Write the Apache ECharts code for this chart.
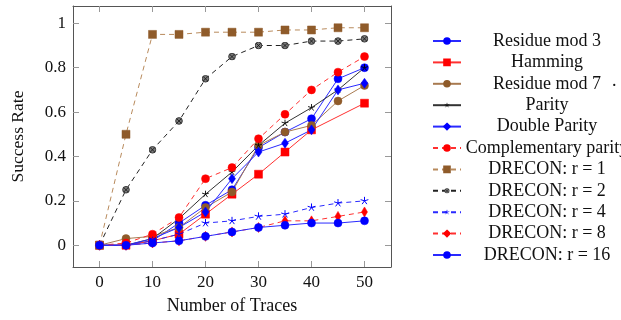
<!DOCTYPE html>
<html><head><meta charset="utf-8">
<script src="https://cdn.jsdelivr.net/npm/echarts@6/dist/echarts.min.js"></script>
<style>html,body{margin:0;padding:0;background:#fff}#c{width:621px;height:320px}</style>
</head><body><div id="c"></div>
<script>
// ---- data ----
const traces = [0, 5, 10, 15, 20, 25, 30, 35, 40, 45, 50];
const xTicks = [0, 10, 20, 30, 40, 50];
const yTicks = [0, 0.2, 0.4, 0.6, 0.8, 1];
const residueMod3   = [0, 0, 0.02, 0.10, 0.18, 0.25, 0.44, 0.51, 0.57, 0.75, 0.80];
const hamming       = [0, 0, 0.02, 0.05, 0.14, 0.23, 0.32, 0.42, 0.52, null, 0.64];
const residueMod7   = [0, 0.03, 0.04, 0.08, 0.17, 0.24, 0.45, 0.51, 0.54, 0.65, 0.72];
const parity        = [0, 0, 0.03, 0.12, 0.23, 0.33, 0.45, 0.55, 0.62, 0.70, 0.80];
const doubleParity  = [0, 0, 0.03, 0.08, 0.15, 0.30, 0.42, 0.46, 0.52, 0.70, 0.73];
const compParity    = [0, 0.01, 0.05, 0.125, 0.30, 0.35, 0.48, 0.59, 0.70, 0.78, 0.85];
const drecon1       = [0, 0.50, 0.95, 0.95, 0.96, 0.96, 0.96, 0.97, 0.97, 0.98, 0.98];
const drecon2       = [0, 0.25, 0.43, 0.56, 0.75, 0.85, 0.90, 0.90, 0.92, 0.92, 0.93];
const drecon4       = [0, 0, 0.02, 0.05, 0.10, 0.11, 0.13, 0.14, 0.17, 0.19, 0.20];
const drecon8       = [0, 0, 0.01, 0.02, 0.04, 0.06, 0.08, 0.11, 0.11, 0.13, 0.15];
const drecon16      = [0, 0, 0.01, 0.02, 0.04, 0.06, 0.08, 0.09, 0.10, 0.10, 0.11];
const seriesNames = ['Residue mod 3','Hamming','Residue mod 7','Parity','Double Parity','Complementary parity','DRECON: r = 1','DRECON: r = 2','DRECON: r = 4','DRECON: r = 8','DRECON: r = 16'];

const svgSym = s => 'image://data:image/svg+xml;utf8,' + encodeURIComponent(s);
const starSvg = c => svgSym('<svg xmlns="http://www.w3.org/2000/svg" width="10" height="10" viewBox="0 0 10 10"><path d="M5 5L5 0.5M5 5L0.72 3.61M5 5L2.35 8.64M5 5L7.65 8.64M5 5L9.28 3.61" stroke="'+c+'" stroke-width="1.1" fill="none"/></svg>');
const otimes = svgSym('<svg xmlns="http://www.w3.org/2000/svg" width="10" height="10" viewBox="0 0 10 10"><circle cx="5" cy="5" r="4.2" fill="#7a7a7a" stroke="#222" stroke-width="1"/><path d="M2.2 2.2L7.8 7.8M7.8 2.2L2.2 7.8" stroke="#111" stroke-width="1"/></svg>');

const pairs = arr => traces.map((x, i) => [x, arr[i]]);
const BLUE = '#0000ff', RED = '#ff0000', BROWN_L = '#b88a5c', BROWN_M = '#8f5b2a';
const dash = [5, 4];
function mk(name, arr, color, lineColor, symbol, size, type) {
  return {
    name, type: 'line', data: pairs(arr), connectNulls: true,
    symbol, symbolSize: size, showSymbol: true,
    itemStyle: { color: color, borderColor: color, borderWidth: 0.5, opacity: 1 },
    lineStyle: { color: lineColor, width: 1, type: type },
    emphasis: { disabled: true }, animation: false
  };
}
const series = [
  mk(seriesNames[0], residueMod3, BLUE, '#2a2aff', 'circle', 8, 'solid'),
  mk(seriesNames[1], hamming, RED, '#ff3030', 'rect', 8, 'solid'),
  mk(seriesNames[2], residueMod7, BROWN_M, '#a87a50', 'circle', 8, 'solid'),
  mk(seriesNames[3], parity, '#000', '#333', starSvg('#000'), 8, 'solid'),
  mk(seriesNames[4], doubleParity, BLUE, '#2a2aff', 'diamond', [7, 10], 'solid'),
  mk(seriesNames[5], compParity, RED, '#ff3030', 'circle', 8, dash),
  mk(seriesNames[6], drecon1, BROWN_M, BROWN_L, 'rect', 8, dash),
  mk(seriesNames[7], drecon2, '#333', '#222', otimes, 8, dash),
  mk(seriesNames[8], drecon4, BLUE, '#2a2aff', starSvg('#0000ff'), 9, dash),
  mk(seriesNames[9], drecon8, RED, '#ff3030', 'diamond', [6, 10], dash),
  mk(seriesNames[10], drecon16, BLUE, '#2a2aff', 'circle', 8, 'solid')
];

const FONT = 'Liberation Serif';
const frame = '#555';
const tick = { show: true, inside: true, length: 6, lineStyle: { color: '#999', width: 1 } };
const chart = echarts.init(document.getElementById('c'), null, { renderer: 'canvas' });
chart.setOption({
  animation: false,
  grid: { left: 73, right: 230, top: 6, bottom: 49, containLabel: false },
  xAxis: [
    { type: 'value', min: -5, max: 55, position: 'bottom',
      axisLine: { show: true, onZero: false, lineStyle: { color: frame, width: 1 } },
      axisTick: Object.assign({ customValues: xTicks }, tick),
      axisLabel: { customValues: xTicks, fontFamily: FONT, fontSize: 17, color: '#111', margin: 7 },
      splitLine: { show: false },
      name: 'Number of Traces', nameLocation: 'middle', nameGap: 30,
      nameTextStyle: { fontFamily: FONT, fontSize: 18, color: '#111' } },
    { type: 'value', min: -5, max: 55, position: 'top',
      axisLine: { show: true, onZero: false, lineStyle: { color: frame, width: 1 } },
      axisTick: Object.assign({ customValues: xTicks }, tick),
      axisLabel: { show: false }, splitLine: { show: false } }
  ],
  yAxis: [
    { type: 'value', min: -0.098, max: 1.078, position: 'left',
      axisLine: { show: true, onZero: false, lineStyle: { color: frame, width: 1 } },
      axisTick: Object.assign({ customValues: yTicks }, tick),
      axisLabel: { customValues: yTicks, fontFamily: FONT, fontSize: 17, color: '#111', margin: 7 },
      splitLine: { show: false },
      name: 'Success Rate', nameLocation: 'middle', nameGap: 46, nameRotate: 90,
      nameTextStyle: { fontFamily: FONT, fontSize: 17.5, color: '#111' } },
    { type: 'value', min: -0.098, max: 1.078, position: 'right',
      axisLine: { show: true, onZero: false, lineStyle: { color: frame, width: 1 } },
      axisTick: Object.assign({ customValues: yTicks }, tick),
      axisLabel: { show: false }, splitLine: { show: false } }
  ],
  legend: {
    data: seriesNames, orient: 'vertical', left: 427, top: 27,
    itemWidth: 28, itemHeight: 7, itemGap: 3.4,
    formatter: n => '{a|' + n + '}',
    textStyle: { fontFamily: FONT, fontSize: 18, color: '#111',
      rich: { a: { fontFamily: FONT, fontSize: 18, color: '#111', width: 162, align: 'center' } } },
    selectedMode: false
  },
  graphic: [{ type: 'text', left: 612, top: 72, style: { text: '.', fontFamily: FONT, fontSize: 18, fill: '#111' } }],
  series: series
});
</script></body></html>
